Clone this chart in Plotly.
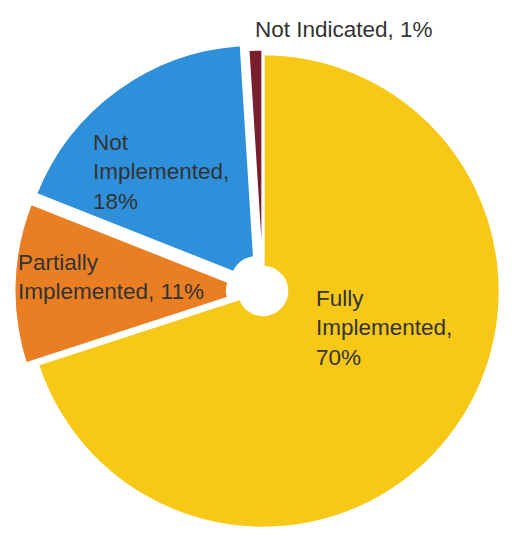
import plotly.graph_objects as go

# Implementation status shares (percent), drawn clockwise from 12 o'clock
labels = ["Fully Implemented", "Partially Implemented", "Not Implemented", "Not Indicated"]
values = [70, 11, 18, 1]
colors = ["#F8C817", "#E97F22", "#2E90DA", "#7A1E2B"]
pulls = [0.0, 0.05, 0.05, 0.02]

# How each label is wrapped when written on the chart
wrapped_names = ["Fully<br>Implemented", "Partially<br>Implemented", "Not<br>Implemented", "Not Indicated"]
value_breaks = ["<br>", " ", "<br>", " "]

# Label anchor positions in pixels (left/centre x, middle y)
label_pos = [(314, 328, "left"), (16, 277, "left"), (91, 172, "left"), (344, 30, "center")]

W, H = 512, 543

fig = go.Figure(
    go.Pie(
        labels=labels,
        values=values,
        sort=False,
        direction="clockwise",
        rotation=0,
        hole=0.1,
        pull=pulls,
        marker=dict(colors=colors, line=dict(color="white", width=3)),
        textinfo="none",
        hoverinfo="label+percent",
        showlegend=False,
        domain=dict(x=[14 / W, 1.0], y=[0.0, 504 / H]),
    )
)

annotations = []
for name, brk, v, (px, py, anchor) in zip(wrapped_names, value_breaks, values, label_pos):
    annotations.append(
        dict(
            text=f"{name},{brk}{v}%",
            x=px / W,
            y=1 - py / H,
            xref="paper",
            yref="paper",
            xanchor=anchor,
            yanchor="middle",
            align="left",
            showarrow=False,
            font=dict(family="Liberation Sans, Arial, sans-serif", size=22.5, color="#333333"),
        )
    )

fig.update_layout(
    width=W,
    height=H,
    margin=dict(l=0, r=0, t=0, b=0),
    paper_bgcolor="white",
    plot_bgcolor="white",
    annotations=annotations,
)

fig.write_html("out.html")
